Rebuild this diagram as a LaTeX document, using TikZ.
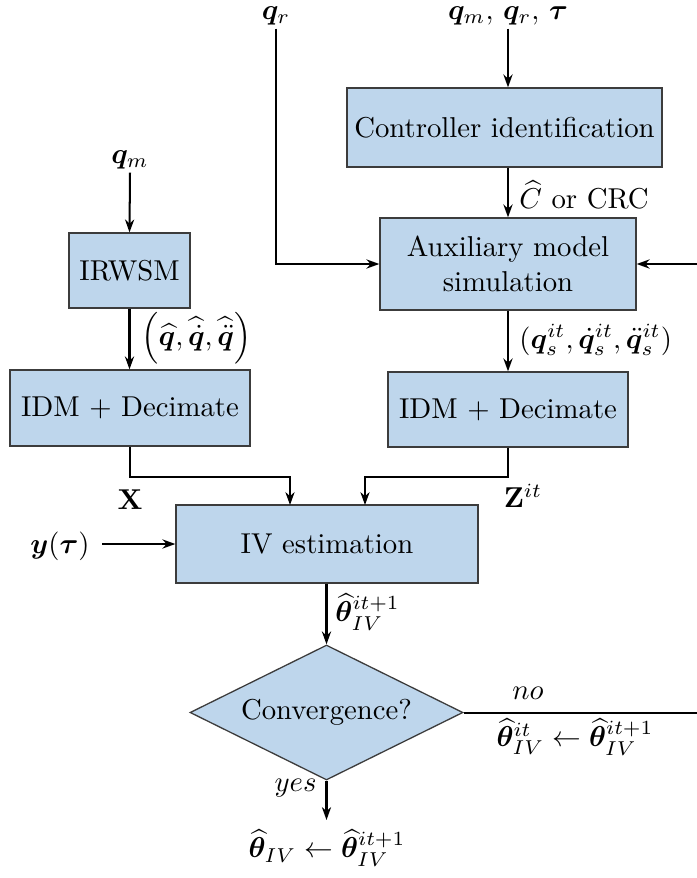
\documentclass[tikz,border=0pt]{standalone}
\usepackage{amsmath,bm}
\usetikzlibrary{arrows.meta,shapes.geometric}
\newdimen\pu \pu=0.348pt
\definecolor{boxfill}{RGB}{190,214,236}
\definecolor{boxline}{RGB}{60,60,60}
\tikzset{
  blk/.style={draw=boxline, line width=0.45pt, fill=boxfill, inner sep=0pt, align=center},
  arr/.style={line width=0.7pt, -{Stealth[length=4.5pt,width=3.2pt]}},
  ln/.style={line width=0.7pt},
  lbl/.style={inner sep=1pt}
}
\begin{document}
\begin{tikzpicture}[x=0.348pt, y=-0.348pt]
\useasboundingbox (0,0) rectangle (697,878);
\clip (0,0) rectangle (697,878);
% inputs
\node[lbl] (qr) at (276,16) {$\bm{q}_r$};
\node[lbl] (qin) at (508,16) {$\bm{q}_m,\, \bm{q}_r,\, \bm{\tau}$};
\node[lbl] (qm) at (130,160) {$\bm{q}_m$};
% blocks
\node[blk, minimum width=315\pu, minimum height=79\pu] (ctrl) at (504.5,127.5) {Controller identification};
\node[blk, minimum width=256\pu, minimum height=92\pu] (aux) at (508,264) {Auxiliary model\\simulation};
\node[blk, minimum width=121\pu, minimum height=75\pu] (irw) at (129.5,270.5) {IRWSM};
\node[blk, minimum width=240\pu, minimum height=76\pu] (idm1) at (130,408) {IDM + Decimate};
\node[blk, minimum width=240\pu, minimum height=75\pu] (idm2) at (508,409.5) {IDM + Decimate};
\node[blk, minimum width=302\pu, minimum height=78\pu] (iv) at (327,544) {IV estimation};
\node[blk, shape=diamond, aspect=2.02, inner sep=0pt, minimum width=273\pu, minimum height=135\pu] (conv) at (326.5,712.5) {Convergence?};
% labels
\node[lbl, anchor=west] (lc) at (516,195) {$\widehat{C}$ or CRC};
\node[lbl, anchor=west] (lqs) at (516,340) {$(\bm{q}_s^{it}, \dot{\bm{q}}_s^{it}, \ddot{\bm{q}}_s^{it})$};
\node[lbl, anchor=west] (lqh) at (138,338) {$\left(\widehat{\bm{q}}, \widehat{\dot{\bm{q}}}, \widehat{\ddot{\bm{q}}}\right)$};
\node[lbl] (lx) at (130,500) {$\mathbf{X}$};
\node[lbl] (lz) at (523,496) {$\mathbf{Z}^{it}$};
\node[lbl] (ly) at (60,546) {$\bm{y}(\bm{\tau})$};
\node[lbl, anchor=west] (lth) at (332,612) {$\widehat{\bm{\theta}}_{IV}^{it+1}$};
\node[lbl] (lno) at (528,693) {$no$};
\node[lbl] (lupd) at (575,737) {$\widehat{\bm{\theta}}_{IV}^{it} \leftarrow \widehat{\bm{\theta}}_{IV}^{it+1}$};
\node[lbl, anchor=east] (lyes) at (320,788) {$yes$};
\node[lbl] (out) at (327,848) {$\widehat{\bm{\theta}}_{IV} \leftarrow \widehat{\bm{\theta}}_{IV}^{it+1}$};
% coordinates
\coordinate (fbR) at (697,264);
\coordinate (noR) at (697,712.5);
\coordinate (ivin1) at (290,505);
\coordinate (ivin2) at (365,505);
\coordinate (yesend) at (326.5,820);
\coordinate (ystart) at (102,544);
% connectors
\draw[arr] (qr.south) |- (aux.west);
\draw[arr] (qin.south) -- (qin.south |- ctrl.north);
\draw[arr] (ctrl.south -| aux.north) -- (aux.north);
\draw[arr] (fbR) -- (aux.east);
\draw[arr] (aux.south) -- (idm2.north);
\draw[arr] (qm.south) -- (irw.north);
\draw[arr] (irw.south) -- (irw.south |- idm1.north);
\draw[arr] (idm1.south) -- ++(0,30) -| (ivin1);
\draw[arr] (idm2.south) -- ++(0,29) -| (ivin2);
\draw[arr] (ystart) -- (iv.west);
\draw[arr] (iv.south -| conv.north) -- (conv.north);
\draw[ln] (conv.east) -- (noR);
\draw[arr] (conv.south) -- (yesend);
\end{tikzpicture}
\end{document}
